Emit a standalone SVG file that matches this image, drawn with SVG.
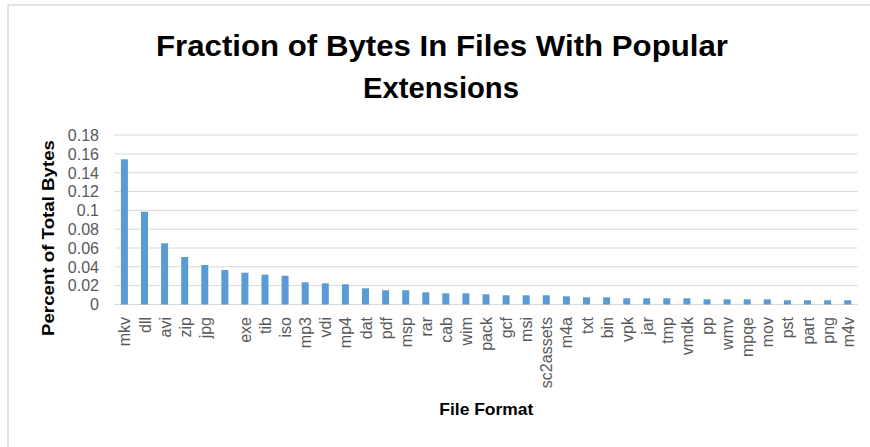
<svg xmlns="http://www.w3.org/2000/svg" width="870" height="447" viewBox="0 0 870 447">
<style>
.title{font-family:"Liberation Sans",Arial,sans-serif;font-weight:bold;font-size:30px;fill:#000;text-anchor:middle}
.axt{font-family:"Liberation Sans",Arial,sans-serif;font-weight:bold;font-size:17px;fill:#000;text-anchor:middle}
.tick{font-family:"Liberation Sans",Arial,sans-serif;font-size:16px;fill:#595959;text-anchor:end}
.cat{font-family:"Liberation Sans",Arial,sans-serif;font-size:16px;fill:#595959;text-anchor:end}
.grid line{stroke:#d9d9d9;stroke-width:1}
.bar{fill:#5b9bd5}
</style>
<rect width="870" height="447" fill="#fff"/>
<g id="frame" stroke="#d9d9d9" stroke-width="1.5" fill="none">
<line x1="8" y1="5" x2="870" y2="5"/>
<line x1="8" y1="5" x2="8" y2="447"/>
</g>
<g id="title">
<text class="title" x="442" y="56" textLength="572" lengthAdjust="spacingAndGlyphs">Fraction of Bytes In Files With Popular</text>
<text class="title" x="441" y="97.5" textLength="156" lengthAdjust="spacingAndGlyphs">Extensions</text>
</g>
<g id="grid" class="grid">
<line x1="114.3" y1="135" x2="857.7" y2="135"/>
<line x1="114.3" y1="153.9" x2="857.7" y2="153.9"/>
<line x1="114.3" y1="172.7" x2="857.7" y2="172.7"/>
<line x1="114.3" y1="191.5" x2="857.7" y2="191.5"/>
<line x1="114.3" y1="210.3" x2="857.7" y2="210.3"/>
<line x1="114.3" y1="229.2" x2="857.7" y2="229.2"/>
<line x1="114.3" y1="248" x2="857.7" y2="248"/>
<line x1="114.3" y1="266.8" x2="857.7" y2="266.8"/>
<line x1="114.3" y1="285.6" x2="857.7" y2="285.6"/>
<line x1="114.3" y1="304.5" x2="857.7" y2="304.5"/>
</g>
<g id="yticks">
<text class="tick" x="99" y="140.8">0.18</text>
<text class="tick" x="99" y="159.7">0.16</text>
<text class="tick" x="99" y="178.5">0.14</text>
<text class="tick" x="99" y="197.3">0.12</text>
<text class="tick" x="99" y="216.1">0.1</text>
<text class="tick" x="99" y="235">0.08</text>
<text class="tick" x="99" y="253.8">0.06</text>
<text class="tick" x="99" y="272.6">0.04</text>
<text class="tick" x="99" y="291.4">0.02</text>
<text class="tick" x="99" y="310.3">0</text>
</g>
<g id="bars">
<rect class="bar" x="120.9" y="159.3" width="7" height="145.2"/>
<rect class="bar" x="141" y="211.7" width="7" height="92.8"/>
<rect class="bar" x="161.1" y="243.3" width="7" height="61.2"/>
<rect class="bar" x="181.2" y="257" width="7" height="47.5"/>
<rect class="bar" x="201.3" y="265" width="7" height="39.5"/>
<rect class="bar" x="221.4" y="270" width="7" height="34.5"/>
<rect class="bar" x="241.4" y="272.7" width="7" height="31.8"/>
<rect class="bar" x="261.5" y="274.7" width="7" height="29.8"/>
<rect class="bar" x="281.6" y="275.7" width="7" height="28.8"/>
<rect class="bar" x="301.7" y="282.3" width="7" height="22.2"/>
<rect class="bar" x="321.8" y="283.3" width="7" height="21.2"/>
<rect class="bar" x="341.9" y="284.3" width="7" height="20.2"/>
<rect class="bar" x="362" y="288.3" width="7" height="16.2"/>
<rect class="bar" x="382.1" y="290.3" width="7" height="14.2"/>
<rect class="bar" x="402.2" y="290.3" width="7" height="14.2"/>
<rect class="bar" x="422.3" y="292.3" width="7" height="12.2"/>
<rect class="bar" x="442.3" y="293.3" width="7" height="11.2"/>
<rect class="bar" x="462.4" y="293.3" width="7" height="11.2"/>
<rect class="bar" x="482.5" y="294.3" width="7" height="10.2"/>
<rect class="bar" x="502.6" y="295.3" width="7" height="9.2"/>
<rect class="bar" x="522.7" y="295.3" width="7" height="9.2"/>
<rect class="bar" x="542.8" y="295.3" width="7" height="9.2"/>
<rect class="bar" x="562.9" y="296.3" width="7" height="8.2"/>
<rect class="bar" x="583" y="297.3" width="7" height="7.2"/>
<rect class="bar" x="603.1" y="297.3" width="7" height="7.2"/>
<rect class="bar" x="623.2" y="298.3" width="7" height="6.2"/>
<rect class="bar" x="643.2" y="298.3" width="7" height="6.2"/>
<rect class="bar" x="663.3" y="298.3" width="7" height="6.2"/>
<rect class="bar" x="683.4" y="298.3" width="7" height="6.2"/>
<rect class="bar" x="703.5" y="299.3" width="7" height="5.2"/>
<rect class="bar" x="723.6" y="299.3" width="7" height="5.2"/>
<rect class="bar" x="743.7" y="299.3" width="7" height="5.2"/>
<rect class="bar" x="763.8" y="299.3" width="7" height="5.2"/>
<rect class="bar" x="783.9" y="300.3" width="7" height="4.2"/>
<rect class="bar" x="804" y="300.3" width="7" height="4.2"/>
<rect class="bar" x="824.1" y="300.3" width="7" height="4.2"/>
<rect class="bar" x="844.2" y="300.3" width="7" height="4.2"/>
</g>
<g id="xlabels">
<text class="cat" transform="translate(130.4,317) rotate(-90)">mkv</text>
<text class="cat" transform="translate(150.5,317) rotate(-90)">dll</text>
<text class="cat" transform="translate(170.6,317) rotate(-90)">avi</text>
<text class="cat" transform="translate(190.7,317) rotate(-90)">zip</text>
<text class="cat" transform="translate(210.8,317) rotate(-90)">jpg</text>
<text class="cat" transform="translate(250.9,317) rotate(-90)">exe</text>
<text class="cat" transform="translate(271,317) rotate(-90)">tib</text>
<text class="cat" transform="translate(291.1,317) rotate(-90)">iso</text>
<text class="cat" transform="translate(311.2,317) rotate(-90)">mp3</text>
<text class="cat" transform="translate(331.3,317) rotate(-90)">vdi</text>
<text class="cat" transform="translate(351.4,317) rotate(-90)">mp4</text>
<text class="cat" transform="translate(371.5,317) rotate(-90)">dat</text>
<text class="cat" transform="translate(391.6,317) rotate(-90)">pdf</text>
<text class="cat" transform="translate(411.7,317) rotate(-90)">msp</text>
<text class="cat" transform="translate(431.8,317) rotate(-90)">rar</text>
<text class="cat" transform="translate(451.8,317) rotate(-90)">cab</text>
<text class="cat" transform="translate(471.9,317) rotate(-90)">wim</text>
<text class="cat" transform="translate(492,317) rotate(-90)">pack</text>
<text class="cat" transform="translate(512.1,317) rotate(-90)">gcf</text>
<text class="cat" transform="translate(532.2,317) rotate(-90)">msi</text>
<text class="cat" transform="translate(552.3,317) rotate(-90)">sc2assets</text>
<text class="cat" transform="translate(572.4,317) rotate(-90)">m4a</text>
<text class="cat" transform="translate(592.5,317) rotate(-90)">txt</text>
<text class="cat" transform="translate(612.6,317) rotate(-90)">bin</text>
<text class="cat" transform="translate(632.7,317) rotate(-90)">vpk</text>
<text class="cat" transform="translate(652.7,317) rotate(-90)">jar</text>
<text class="cat" transform="translate(672.8,317) rotate(-90)">tmp</text>
<text class="cat" transform="translate(692.9,317) rotate(-90)">vmdk</text>
<text class="cat" transform="translate(713,317) rotate(-90)">pp</text>
<text class="cat" transform="translate(733.1,317) rotate(-90)">wmv</text>
<text class="cat" transform="translate(753.2,317) rotate(-90)">mpqe</text>
<text class="cat" transform="translate(773.3,317) rotate(-90)">mov</text>
<text class="cat" transform="translate(793.4,317) rotate(-90)">pst</text>
<text class="cat" transform="translate(813.5,317) rotate(-90)">part</text>
<text class="cat" transform="translate(833.6,317) rotate(-90)">png</text>
<text class="cat" transform="translate(853.7,317) rotate(-90)">m4v</text>
</g>
<g id="axis-titles">
<text class="axt" transform="translate(54,238) rotate(-90)" textLength="196" lengthAdjust="spacingAndGlyphs">Percent of Total Bytes</text>
<text class="axt" x="486.3" y="415" textLength="94" lengthAdjust="spacingAndGlyphs">File Format</text>
</g>
</svg>
